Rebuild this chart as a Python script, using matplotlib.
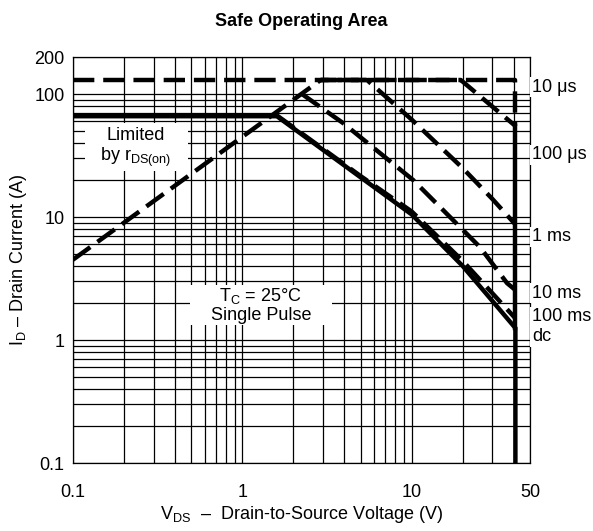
import matplotlib
matplotlib.use('Agg')
import matplotlib.pyplot as plt
from matplotlib.patches import Rectangle
from matplotlib.ticker import FixedLocator, LogLocator, NullFormatter

plt.rcParams['font.family'] = ['Liberation Sans', 'DejaVu Sans']
plt.rcParams['mathtext.fontset'] = 'custom'
plt.rcParams['mathtext.rm'] = 'Liberation Sans'

# limit lines, drain voltage (V) vs drain current (A)
rds_v = [0.1, 2.9]
rds_i = [4.5, 130]

us10_v = [0.1, 41, 41]
us10_i = [130, 130, 55]

us100_v = [2.9, 19.5, 41]
us100_i = [130, 130, 55]

ms1_v = [2.9, 5.45, 10, 20, 30, 41]
ms1_i = [130, 130, 62, 25, 14, 8.7]

ms10_v = [2.25, 3.94, 10.2, 25.3, 36.6, 41]
ms10_i = [100, 58, 20, 5.7, 2.9, 2.55]

ms100_v = [1.6, 5, 10, 20, 41]
ms100_i = [67, 21.5, 11.1, 4.4, 1.5]

dc_v = [0.1, 1.6, 5, 10, 20, 41, 41]
dc_i = [66, 66, 21, 10.5, 4, 1.25, 0.1]

bv_v = [41, 41]
bv_i = [55, 1.25]

curve_labels = ['10 μs', '100 μs', '1 ms', '10 ms', '100 ms', 'dc']
label_i = [114, 32, 6.9, 2.41, 1.54, 1.06]

x_ticks = [0.1, 1, 10, 50]
y_ticks = [0.1, 1, 10, 100, 200]

fig = plt.figure(figsize=(5.93, 5.31), dpi=100)
ax = fig.add_axes([73 / 593, 68 / 531, 457 / 593, 406 / 531])
ax.set_xscale('log')
ax.set_yscale('log')
ax.set_xlim(0.1, 50)
ax.set_ylim(0.1, 200)

ax.xaxis.set_major_locator(FixedLocator(x_ticks))
ax.yaxis.set_major_locator(FixedLocator(y_ticks))
ax.set_xticklabels([f'{t:g}' for t in x_ticks])
ax.set_yticklabels([f'{t:g}' for t in y_ticks])
ax.xaxis.set_minor_locator(LogLocator(base=10, subs=range(2, 10), numticks=20))
ax.yaxis.set_minor_locator(LogLocator(base=10, subs=range(2, 10), numticks=20))
ax.xaxis.set_minor_formatter(NullFormatter())
ax.yaxis.set_minor_formatter(NullFormatter())
ax.tick_params(which='both', length=0, labelsize=13)
ax.tick_params(axis='x', pad=15)
ax.tick_params(axis='y', pad=6)
ax.grid(which='both', color='black', linewidth=0.9)
ax.set_axisbelow(True)
for s in ax.spines.values():
    s.set_linewidth(0.9)

lw = 3.2
dash = (0, (4.8, 2.0))
ax.plot(rds_v, rds_i, color='black', lw=lw, linestyle=dash)
ax.plot(us10_v, us10_i, color='black', lw=lw, linestyle=dash)
ax.plot(us100_v, us100_i, color='black', lw=lw, linestyle=(3, (4.8, 2.0)))
ax.plot(ms1_v, ms1_i, color='black', lw=lw, linestyle=dash)
ax.plot(ms10_v, ms10_i, color='black', lw=lw, linestyle=dash)
ax.plot(ms100_v, ms100_i, color='black', lw=lw, linestyle=dash)
ax.plot(dc_v, dc_i, color='black', lw=lw, solid_joinstyle='miter')
ax.plot(bv_v, bv_i, color='black', lw=lw)

tr = ax.get_yaxis_transform()
for lab, yi in zip(curve_labels, label_i):
    ax.text(1.005, yi, lab, transform=tr, fontsize=13, ha='left', va='center',
            bbox=dict(boxstyle='square,pad=0.1', fc='white', ec='none'), clip_on=False)

# white boxes behind the two notes
ax.add_patch(Rectangle((0.026, 0.720), 0.226, 0.118, transform=ax.transAxes,
                       fc='white', ec='none', zorder=1.5))
ax.add_patch(Rectangle((0.256, 0.340), 0.311, 0.098, transform=ax.transAxes,
                       fc='white', ec='none', zorder=1.5))
ax.text(0.138, 0.776, 'Limited\nby r$_\\mathregular{DS(on)}$', transform=ax.transAxes,
        fontsize=13, ha='center', va='center', multialignment='center', linespacing=1.15)
ax.text(0.411, 0.389, 'T$_\\mathregular{C}$ = 25°C\nSingle Pulse', transform=ax.transAxes,
        fontsize=13, ha='center', va='center', multialignment='center', linespacing=1.05)

ax.set_title('Safe Operating Area', fontsize=13, fontweight='bold', pad=22)
ax.set_xlabel('V$_\\mathregular{DS}$  –  Drain-to-Source Voltage (V)', fontsize=13, labelpad=2)
ax.set_ylabel('I$_\\mathregular{D}$ – Drain Current (A)', fontsize=13, labelpad=4)

fig.savefig('out.png', dpi=100)
